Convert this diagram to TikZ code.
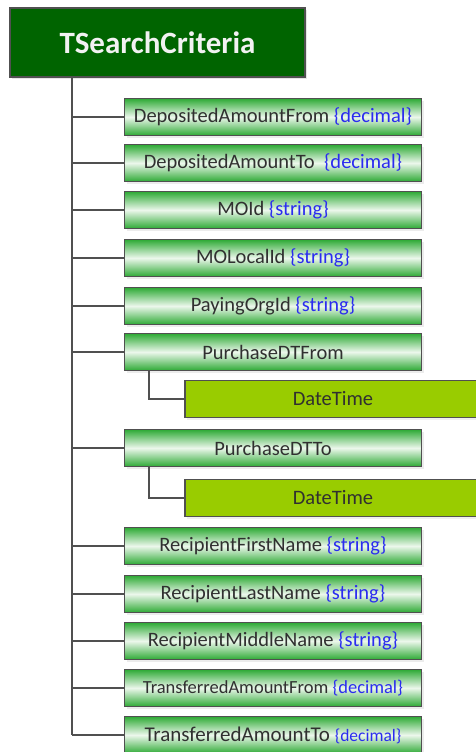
\documentclass[tikz,border=0pt]{standalone}
\usepackage{fontspec}
\setmainfont{Carlito}
\usetikzlibrary{shadows}

\definecolor{rootgreen}{HTML}{006400}
\definecolor{fieldgreen}{HTML}{2EAA35}
\definecolor{fieldlight}{HTML}{ECF7EC}
\definecolor{subgreen}{HTML}{99CC00}
\definecolor{typeblue}{HTML}{2B2BF0}
\definecolor{linegray}{HTML}{505050}
\definecolor{labelgray}{HTML}{303030}

\newcommand{\ftype}[1]{\textcolor{typeblue}{\{#1\}}}
\newcommand{\fsize}[1]{\fontsize{#1}{#1}\selectfont}

\begin{document}
\begin{tikzpicture}[
    x=1pt, y=-1pt,
    root/.style={draw=linegray, line width=1.5pt, fill=rootgreen, text=white!95!black,
      font=\fsize{31}\bfseries, minimum width=295pt, minimum height=69pt, inner sep=0pt,
      drop shadow={shadow xshift=2pt, shadow yshift=-2pt, fill=black!20}},
    field/.style={draw=linegray, line width=1.5pt, top color=fieldgreen, bottom color=fieldgreen,
      middle color=fieldlight, text=labelgray, font=\fsize{20.5}, minimum width=297pt,
      minimum height=37pt, inner sep=0pt,
      drop shadow={shadow xshift=2pt, shadow yshift=-2pt, fill=black!15}},
    subfield/.style={draw=linegray, line width=1.5pt, fill=subgreen, text=labelgray,
      font=\fsize{20.5}, minimum width=296pt, minimum height=37pt, inner sep=0pt,
      drop shadow={shadow xshift=2pt, shadow yshift=-2pt, fill=black!12}},
    link/.style={draw=linegray, line width=1.5pt}
  ]
  \useasboundingbox (0,0) rectangle (475,752);

  % Root type
  \node[root] (root) at (157.5,42.5) {TSearchCriteria};
  \coordinate (trunk) at (72,77);

  % Fields of the root
  \node[field] (depfrom) at (273,117) {DepositedAmountFrom \ftype{decimal}};
  \node[field] (depto) at (273,163) {DepositedAmountTo\ \ \ftype{decimal}};
  \node[field] (moid) at (273,210) {MOId \ftype{string}};
  \node[field] (molocal) at (273,258) {MOLocalId \ftype{string}};
  \node[field] (payorg) at (273,306) {PayingOrgId \ftype{string}};
  \node[field] (pdtfrom) at (273,352) {PurchaseDTFrom};
  \node[field] (pdtto) at (273,448) {PurchaseDTTo};
  \node[field] (rfirst) at (273,546) {RecipientFirstName \ftype{string}};
  \node[field] (rlast) at (273,594) {RecipientLastName \ftype{string}};
  \node[field] (rmiddle) at (273,641) {RecipientMiddleName \ftype{string}};
  \node[field, font=\fsize{18.5}] (trfrom) at (273,688) {TransferredAmountFrom \ftype{decimal}};
  \node[field, font=\fsize{21}] (trto) at (273,735) {TransferredAmountTo {\fsize{17.5}\ftype{decimal}}};

  % Nested DateTime types
  \node[subfield] (dtfrom) at (333,399) {DateTime};
  \node[subfield] (dtto) at (333,498) {DateTime};

  % Trunk and branches
  \draw[link] (trunk) -- (trunk |- trto.west);
  \draw[link] (trunk |- depfrom.west) -- (depfrom.west);
  \draw[link] (trunk |- depto.west) -- (depto.west);
  \draw[link] (trunk |- moid.west) -- (moid.west);
  \draw[link] (trunk |- molocal.west) -- (molocal.west);
  \draw[link] (trunk |- payorg.west) -- (payorg.west);
  \draw[link] (trunk |- pdtfrom.west) -- (pdtfrom.west);
  \draw[link] (trunk |- pdtto.west) -- (pdtto.west);
  \draw[link] (trunk |- rfirst.west) -- (rfirst.west);
  \draw[link] (trunk |- rlast.west) -- (rlast.west);
  \draw[link] (trunk |- rmiddle.west) -- (rmiddle.west);
  \draw[link] (trunk |- trfrom.west) -- (trfrom.west);
  \draw[link] (trunk |- trto.west) -- (trto.west);

  % Sub-branches to DateTime
  \draw[link] ([xshift=25pt]pdtfrom.south west) |- (dtfrom.west);
  \draw[link] ([xshift=25pt]pdtto.south west) |- (dtto.west);

\end{tikzpicture}
\end{document}
